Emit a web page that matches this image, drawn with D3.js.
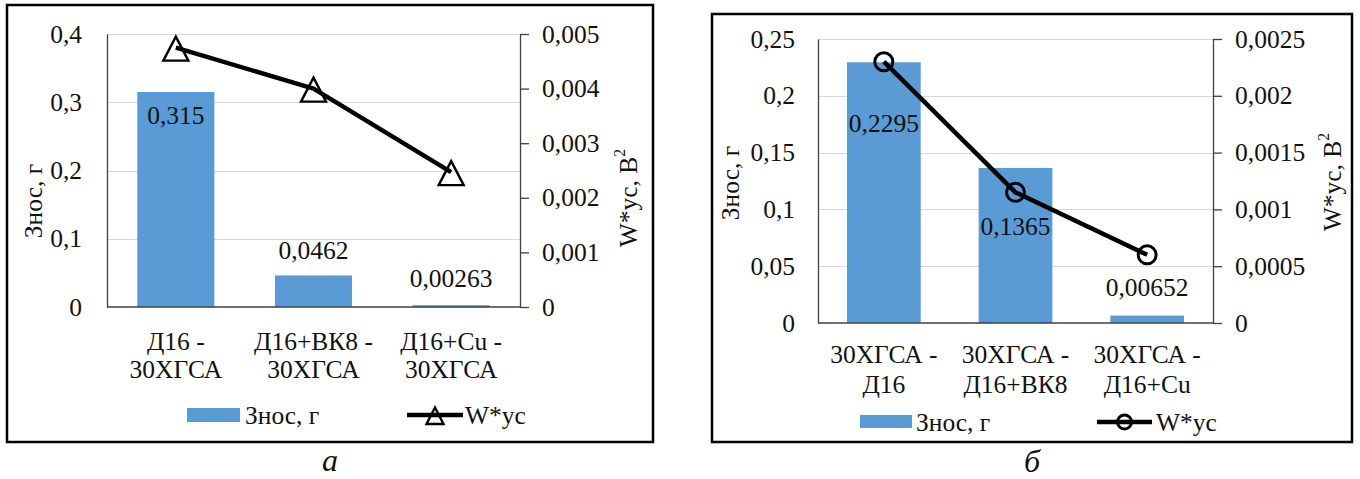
<!DOCTYPE html>
<html>
<head>
<meta charset="utf-8">
<script src="https://cdn.jsdelivr.net/npm/d3@7"></script>
<style>
  html, body { margin: 0; padding: 0; background: #fff; }
  svg { display: block; }
</style>
</head>
<body>
<svg id="chart" width="1360" height="479"></svg>
<script>
// ---- Data: panel "а" ----
const catsA = [["Д16 -", "30ХГСА"], ["Д16+ВК8 -", "30ХГСА"], ["Д16+Cu -", "30ХГСА"]];
const wearA = [0.315, 0.0462, 0.00263];
const wearLabelsA = ["0,315", "0,0462", "0,00263"];
const energyA = [0.00475, 0.004, 0.00247];
const leftTicksA = [0, 0.1, 0.2, 0.3, 0.4];
const leftTickLabelsA = ["0", "0,1", "0,2", "0,3", "0,4"];
const rightTicksA = [0, 0.001, 0.002, 0.003, 0.004, 0.005];
const rightTickLabelsA = ["0", "0,001", "0,002", "0,003", "0,004", "0,005"];

// ---- Data: panel "б" ----
const catsB = [["30ХГСА -", "Д16"], ["30ХГСА -", "Д16+ВК8"], ["30ХГСА -", "Д16+Cu"]];
const wearB = [0.2295, 0.1365, 0.00652];
const wearLabelsB = ["0,2295", "0,1365", "0,00652"];
const energyB = [0.0023, 0.00115, 0.0006];
const leftTicksB = [0, 0.05, 0.1, 0.15, 0.2, 0.25];
const leftTickLabelsB = ["0", "0,05", "0,1", "0,15", "0,2", "0,25"];
const rightTicksB = [0, 0.0005, 0.001, 0.0015, 0.002, 0.0025];
const rightTickLabelsB = ["0", "0,0005", "0,001", "0,0015", "0,002", "0,0025"];

const seriesNames = ["Знос, г", "W*ус"];
const leftTitle = "Знос, г";
const rightTitle = "W*ус, В";

const FONT = "Liberation Serif";
const BAR = "#5b9bd5";
const AXIS = "#404040";
const GRID = "#d9d9d9";
const INK = "#111";
const FS = 25.5;

const svg = d3.select("#chart");

function txt(sel) {
  return sel.append("text").attr("font-family", FONT).attr("fill", INK).attr("font-size", FS);
}

function drawPanel(p) {
  const g = svg.append("g");

  // outer frame
  g.append("rect")
    .attr("x", p.frame[0]).attr("y", p.frame[1])
    .attr("width", p.frame[2]).attr("height", p.frame[3])
    .attr("fill", "none").attr("stroke", "#000").attr("stroke-width", 2.5);

  const x = d3.scaleBand()
    .domain(d3.range(p.cats.length))
    .range([p.plot.left, p.plot.right])
    .paddingInner(0.44).paddingOuter(0.22);
  const yL = d3.scaleLinear().domain([0, d3.max(p.leftTicks)]).range([p.plot.bottom, p.plot.top]);
  const yR = d3.scaleLinear().domain([0, d3.max(p.rightTicks)]).range([p.plot.bottom, p.plot.top]);

  // gridlines
  g.append("g").selectAll("line")
    .data(p.leftTicks.filter(t => t > 0))
    .join("line")
    .attr("x1", p.plot.left).attr("x2", p.plot.right)
    .attr("y1", d => Math.round(yL(d)) + 0.5).attr("y2", d => Math.round(yL(d)) + 0.5)
    .attr("stroke", GRID).attr("stroke-width", 1.2);

  // bars
  g.append("g").selectAll("rect")
    .data(p.wear)
    .join("rect")
    .attr("x", (d, i) => x(i))
    .attr("width", x.bandwidth())
    .attr("y", d => yL(d))
    .attr("height", d => yL(0) - yL(d))
    .attr("fill", BAR);

  // left axis
  const axL = d3.axisLeft(yL).tickValues(p.leftTicks)
    .tickFormat((d, i) => p.leftTickLabels[i])
    .tickSize(0).tickPadding(p.leftPad);
  const gL = g.append("g").attr("transform", `translate(${p.plot.left},0)`).call(axL)
    .attr("font-family", FONT).attr("font-size", FS);
  gL.select(".domain").attr("stroke", AXIS).attr("stroke-width", 1.3);
  gL.selectAll("text").attr("fill", INK);

  // right axis
  const axR = d3.axisRight(yR).tickValues(p.rightTicks)
    .tickFormat((d, i) => p.rightTickLabels[i])
    .tickSizeInner(9).tickSizeOuter(0).tickPadding(13);
  const gR = g.append("g").attr("transform", `translate(${p.plot.right},0)`).call(axR)
    .attr("font-family", FONT).attr("font-size", FS);
  gR.select(".domain").attr("stroke", AXIS).attr("stroke-width", 1.3);
  gR.selectAll(".tick line").attr("stroke", AXIS).attr("stroke-width", 1.3);
  gR.selectAll("text").attr("fill", INK);

  // category axis line
  g.append("line")
    .attr("x1", p.plot.left).attr("x2", p.plot.right)
    .attr("y1", p.plot.bottom).attr("y2", p.plot.bottom)
    .attr("stroke", AXIS).attr("stroke-width", 1.5);

  // category labels (two lines each)
  const cx = i => x(i) + x.bandwidth() / 2;
  p.cats.forEach((lines, i) => {
    lines.forEach((t, k) => {
      txt(g).attr("x", cx(i)).attr("y", p.catBase[k])
        .attr("text-anchor", "middle").text(t);
    });
  });

  // bar value labels
  p.wear.forEach((d, i) => {
    txt(g).attr("x", cx(i)).attr("y", yL(d) + p.labelShift[i])
      .attr("text-anchor", "middle").attr("dominant-baseline", "central")
      .text(p.wearLabels[i]);
  });

  // line series on the right axis
  const line = d3.line().x((d, i) => cx(i)).y(d => yR(d));
  g.append("path")
    .datum(p.energy)
    .attr("d", line)
    .attr("fill", "none").attr("stroke", "#000").attr("stroke-width", 4.5)
    .attr("stroke-linejoin", "round");

  const marker = (sel, big) => {
    if (p.marker === "triangle") {
      const hw = big ? 12.5 : 8.5, up = big ? 11 : 7.5, dn = big ? 13 : 9;
      sel.append("path")
        .attr("d", `M0,${-up}L${hw},${dn}L${-hw},${dn}Z`)
        .attr("fill", "none").attr("stroke", "#000").attr("stroke-width", 2.4)
        .attr("stroke-linejoin", "miter");
    } else {
      sel.append("circle")
        .attr("r", big ? 9 : 7)
        .attr("fill", "none").attr("stroke", "#000").attr("stroke-width", 3);
    }
  };

  p.energy.forEach((d, i) => {
    const m = g.append("g").attr("transform", `translate(${cx(i)},${yR(d)})`);
    marker(m, true);
  });

  // axis titles
  txt(g)
    .attr("transform", `translate(${p.leftTitlePos[0]},${p.leftTitlePos[1]}) rotate(-90)`)
    .attr("text-anchor", "middle").attr("dominant-baseline", "central")
    .text(leftTitle);
  const rt = txt(g)
    .attr("transform", `translate(${p.rightTitlePos[0]},${p.rightTitlePos[1]}) rotate(-90)`)
    .attr("text-anchor", "middle").attr("dominant-baseline", "central")
    .text(rightTitle);
  rt.append("tspan").attr("font-size", FS * 0.62).attr("dy", -9).text("2");

  // legend
  const L = p.legend;
  g.append("rect")
    .attr("x", L.rect[0]).attr("y", L.rect[1])
    .attr("width", L.rect[2]).attr("height", L.rect[3])
    .attr("fill", BAR);
  txt(g).attr("x", L.text1).attr("y", L.base).text(seriesNames[0]);
  g.append("line")
    .attr("x1", L.line[0]).attr("x2", L.line[1])
    .attr("y1", L.lineY).attr("y2", L.lineY)
    .attr("stroke", "#000").attr("stroke-width", 4.5);
  const lm = g.append("g").attr("transform", `translate(${(L.line[0] + L.line[1]) / 2},${L.lineY})`);
  marker(lm, false);
  txt(g).attr("x", L.text2).attr("y", L.base).text(seriesNames[1]);

  // panel caption
  g.append("text")
    .attr("x", p.caption[0]).attr("y", p.caption[1])
    .attr("font-family", FONT).attr("fill", INK)
    .attr("text-anchor", "middle").attr("font-size", 32).attr("font-style", "italic")
    .text(p.caption[2]);
}

drawPanel({
  frame: [7, 5, 646, 437],
  plot: { left: 107, right: 520, top: 34, bottom: 307 },
  cats: catsA, wear: wearA, wearLabels: wearLabelsA, energy: energyA,
  leftTicks: leftTicksA, leftTickLabels: leftTickLabelsA,
  rightTicks: rightTicksA, rightTickLabels: rightTickLabelsA,
  leftPad: 25,
  labelShift: [23, -25, -27],
  catBase: [350, 378],
  marker: "triangle",
  leftTitlePos: [33, 201], rightTitlePos: [628, 198],
  legend: { rect: [187, 408, 53, 14], text1: 245, base: 424, line: [407, 463], lineY: 415, text2: 465 },
  caption: [330, 471, "а"]
});

drawPanel({
  frame: [712, 14, 640, 428],
  plot: { left: 818, right: 1213, top: 39, bottom: 323 },
  cats: catsB, wear: wearB, wearLabels: wearLabelsB, energy: energyB,
  leftTicks: leftTicksB, leftTickLabels: leftTickLabelsB,
  rightTicks: rightTicksB, rightTickLabels: rightTickLabelsB,
  leftPad: 23,
  labelShift: [61, 59, -28],
  catBase: [363, 393],
  marker: "circle",
  leftTitlePos: [730, 183], rightTitlePos: [1332, 182],
  legend: { rect: [860, 415, 52, 13], text1: 916, base: 431, line: [1097, 1152], lineY: 422, text2: 1156 },
  caption: [1032, 472, "б"]
});
</script>
</body>
</html>
